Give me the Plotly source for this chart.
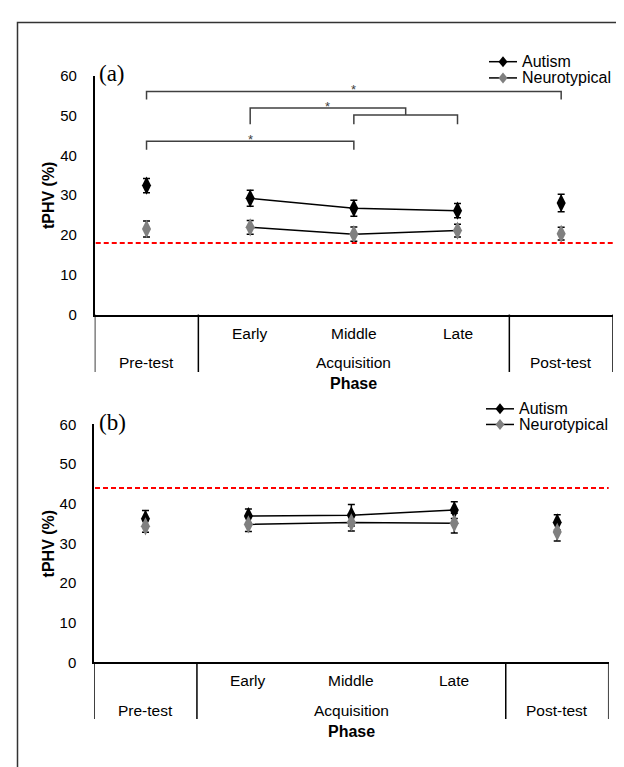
import plotly.graph_objects as go

W, H = 624, 767

# ---------------- data ----------------
phases = ["Pre-test", "Early", "Middle", "Late", "Post-test"]
sub_labels = ["", "Early", "Middle", "Late", ""]
group_labels = ["Pre-test", "Acquisition", "Post-test"]
group_centers = [0, 2, 4]
group_bounds = [-0.5, 0.5, 3.5, 4.5]

a_autism = [32.4, 29.2, 26.7, 26.1, 28.0]
a_autism_err = [1.8, 2.0, 2.0, 1.8, 2.2]
a_neuro = [21.5, 21.9, 20.2, 21.1, 20.3]
a_neuro_err = [2.0, 1.7, 1.8, 1.6, 1.6]
a_ref = 18.0

b_autism = [36.2, 36.9, 37.1, 38.4, 35.3]
b_autism_err = [2.1, 1.8, 2.7, 2.1, 1.9]
b_neuro = [34.3, 34.8, 35.3, 35.1, 32.9]
b_neuro_err = [1.5, 1.8, 2.2, 2.5, 2.3]
b_ref = 44.0

y_ticks = [0, 10, 20, 30, 40, 50, 60]

# significance brackets (a): x_start, x_end, top, left leg end, right leg end, star x, star y
brackets = [
    (0, 4, 56.0, 54.0, 54.0, 2.0, 57.2),
    (1, 2.5, 51.9, 47.8, 50.1, 1.75, 53.0),
    (2, 3, 50.1, 47.8, 47.8, None, None),
    (0, 2, 43.5, 41.4, 41.4, 1.0, 44.7),
]

series_names = ["Autism", "Neurotypical"]
series_colors = ["#000000", "#808080"]

# ---------------- helpers ----------------
def fx(px):
    return px / W

def fy(py):
    return 1 - py / H

def split_series(vals, errs):
    """Pre-test and Post-test stand alone; acquisition points are connected."""
    xs = [0, None, 1, 2, 3, None, 4]
    ys = [vals[0], None, vals[1], vals[2], vals[3], None, vals[4]]
    es = [errs[0], None, errs[1], errs[2], errs[3], None, errs[4]]
    return xs, ys, es

FONT = "Liberation Sans, Arial, sans-serif"
SERIF = "Liberation Serif, Times New Roman, serif"

fig = go.Figure()

panels = [
    dict(xa="x", ya="y", xd=[86.7, 605], yd=[304.3, 60], data=[(a_autism, a_autism_err), (a_neuro, a_neuro_err)],
         ref=a_ref, sub_y=324, grp_y=353, sep_y=363, phase_y=375, label="(a)", label_y=58,
         leg_y=[45.7, 62.3], leg_x=481),
    dict(xa="x2", ya="y2", xd=[86, 600.7], yd=[660, 416.7], data=[(b_autism, b_autism_err), (b_neuro, b_neuro_err)],
         ref=b_ref, sub_y=679, grp_y=709, sep_y=718, phase_y=730.7, label="(b)", label_y=415,
         leg_y=[400.7, 416.7], leg_x=478),
]

shapes = []
annotations = []

for i, p in enumerate(panels):
    for (vals, errs), name, col in zip(p["data"], series_names, series_colors):
        xs, ys, es = split_series(vals, errs)
        fig.add_trace(go.Scatter(
            x=xs, y=ys, mode="lines+markers", name=name, showlegend=False,
            xaxis=p["xa"], yaxis=p["ya"], connectgaps=False,
            line=dict(color="#000000", width=1.5),
            marker=dict(symbol="diamond-tall", size=13, color=col, line=dict(width=0)),
            error_y=dict(type="data", array=es, visible=True, color="#000000", thickness=1.5, width=3.5),
        ))

    xref = p["xa"]
    yref = p["ya"]
    # reference dashed line
    shapes.append(dict(type="line", xref=xref + " domain", yref=yref, x0=0.002, x1=1.0,
                       y0=p["ref"], y1=p["ref"], line=dict(color="#ff0000", width=2, dash="5px,3px")))
    # group separators extending below the axis
    for b in group_bounds:
        shapes.append(dict(type="line", xref=xref, yref="paper", x0=b, x1=b,
                           y0=fy(p["yd"][0]), y1=fy(p["sep_y"]), line=dict(color="#000000", width=1.5)))
    # sub-category labels
    for k, lab in enumerate(sub_labels):
        if lab:
            annotations.append(dict(xref=xref, yref="paper", x=k, y=fy(p["sub_y"]), text=lab,
                                    showarrow=False, yanchor="middle",
                                    font=dict(family=FONT, size=15.5, color="#000000")))
    for c, lab in zip(group_centers, group_labels):
        annotations.append(dict(xref=xref, yref="paper", x=c, y=fy(p["grp_y"]), text=lab,
                                showarrow=False, yanchor="middle",
                                font=dict(family=FONT, size=15.5, color="#000000")))
    annotations.append(dict(xref=xref + " domain", yref="paper", x=0.5, y=fy(p["phase_y"]), text="<b>Phase</b>",
                            showarrow=False, yanchor="middle",
                            font=dict(family=FONT, size=16, color="#000000")))
    # y axis title
    annotations.append(dict(xref="paper", yref=yref + " domain", x=fx(40), y=0.5, text="<b>tPHV (%)</b>",
                            textangle=-90, showarrow=False, xanchor="center", yanchor="middle",
                            font=dict(family=FONT, size=16, color="#000000")))
    # panel label
    annotations.append(dict(xref="paper", yref="paper", x=fx(89), y=fy(p["label_y"]), text=p["label"],
                            showarrow=False, xanchor="left", yanchor="middle",
                            font=dict(family=SERIF, size=23, color="#000000")))
    # manual legend
    for name, col, ly in zip(series_names, series_colors, p["leg_y"]):
        x0 = p["leg_x"]
        shapes.append(dict(type="line", xref="paper", yref="paper", x0=fx(x0), x1=fx(x0 + 28),
                           y0=fy(ly), y1=fy(ly), line=dict(color="#000000", width=1.5)))
        cx = x0 + 14
        shapes.append(dict(type="path", xref="paper", yref="paper", xsizemode="pixel", ysizemode="pixel",
                           xanchor=fx(cx), yanchor=fy(ly),
                           path="M 0 5.5 L 4.5 0 L 0 -5.5 L -4.5 0 Z",
                           fillcolor=col, line=dict(width=0)))
        annotations.append(dict(xref="paper", yref="paper", x=fx(x0 + 31), y=fy(ly), text=name,
                                showarrow=False, xanchor="left", yanchor="middle",
                                font=dict(family=FONT, size=16, color="#000000")))

# significance brackets on panel (a)
for x0, x1, top, l_end, r_end, sx, sy in brackets:
    shapes.append(dict(type="path", xref="x", yref="y",
                       path=f"M {x0} {l_end} L {x0} {top} L {x1} {top} L {x1} {r_end}",
                       line=dict(color="#404040", width=1.5)))
    if sx is not None:
        annotations.append(dict(xref="x", yref="y", x=sx, y=sy, text="*", showarrow=False,
                                yanchor="middle", yshift=-3,
                                font=dict(family=FONT, size=13, color="#404040")))

# outer frame (left and top edges)
shapes.append(dict(type="path", xref="paper", yref="paper",
                   path=f"M {fx(9.5)} {fy(770)} L {fx(9.5)} {fy(5.7)} L {fx(621)} {fy(5.7)}",
                   line=dict(color="#333333", width=1.5)))

axis_common_x = dict(range=[-0.5, 4.5], showline=True, linecolor="#000000", linewidth=1.5,
                     showticklabels=False, ticks="", showgrid=False, zeroline=False, fixedrange=True)
axis_common_y = dict(range=[0, 60], tickvals=y_ticks, showline=True, linecolor="#000000", linewidth=1.5,
                     ticks="", showgrid=False, zeroline=False, ticklabelstandoff=13,
                     tickfont=dict(family=FONT, size=15, color="#000000"), fixedrange=True)

fig.update_layout(
    width=W, height=H,
    margin=dict(l=0, r=0, t=0, b=0),
    paper_bgcolor="#ffffff", plot_bgcolor="rgba(0,0,0,0)",
    showlegend=False,
    xaxis=dict(domain=[fx(86.7), fx(605)], anchor="y", **axis_common_x),
    yaxis=dict(domain=[fy(304.3), fy(60)], anchor="x", **axis_common_y),
    xaxis2=dict(domain=[fx(86), fx(600.7)], anchor="y2", **axis_common_x),
    yaxis2=dict(domain=[fy(660), fy(416.7)], anchor="x2", **axis_common_y),
    shapes=shapes,
    annotations=annotations,
)

fig.write_html("out.html")
